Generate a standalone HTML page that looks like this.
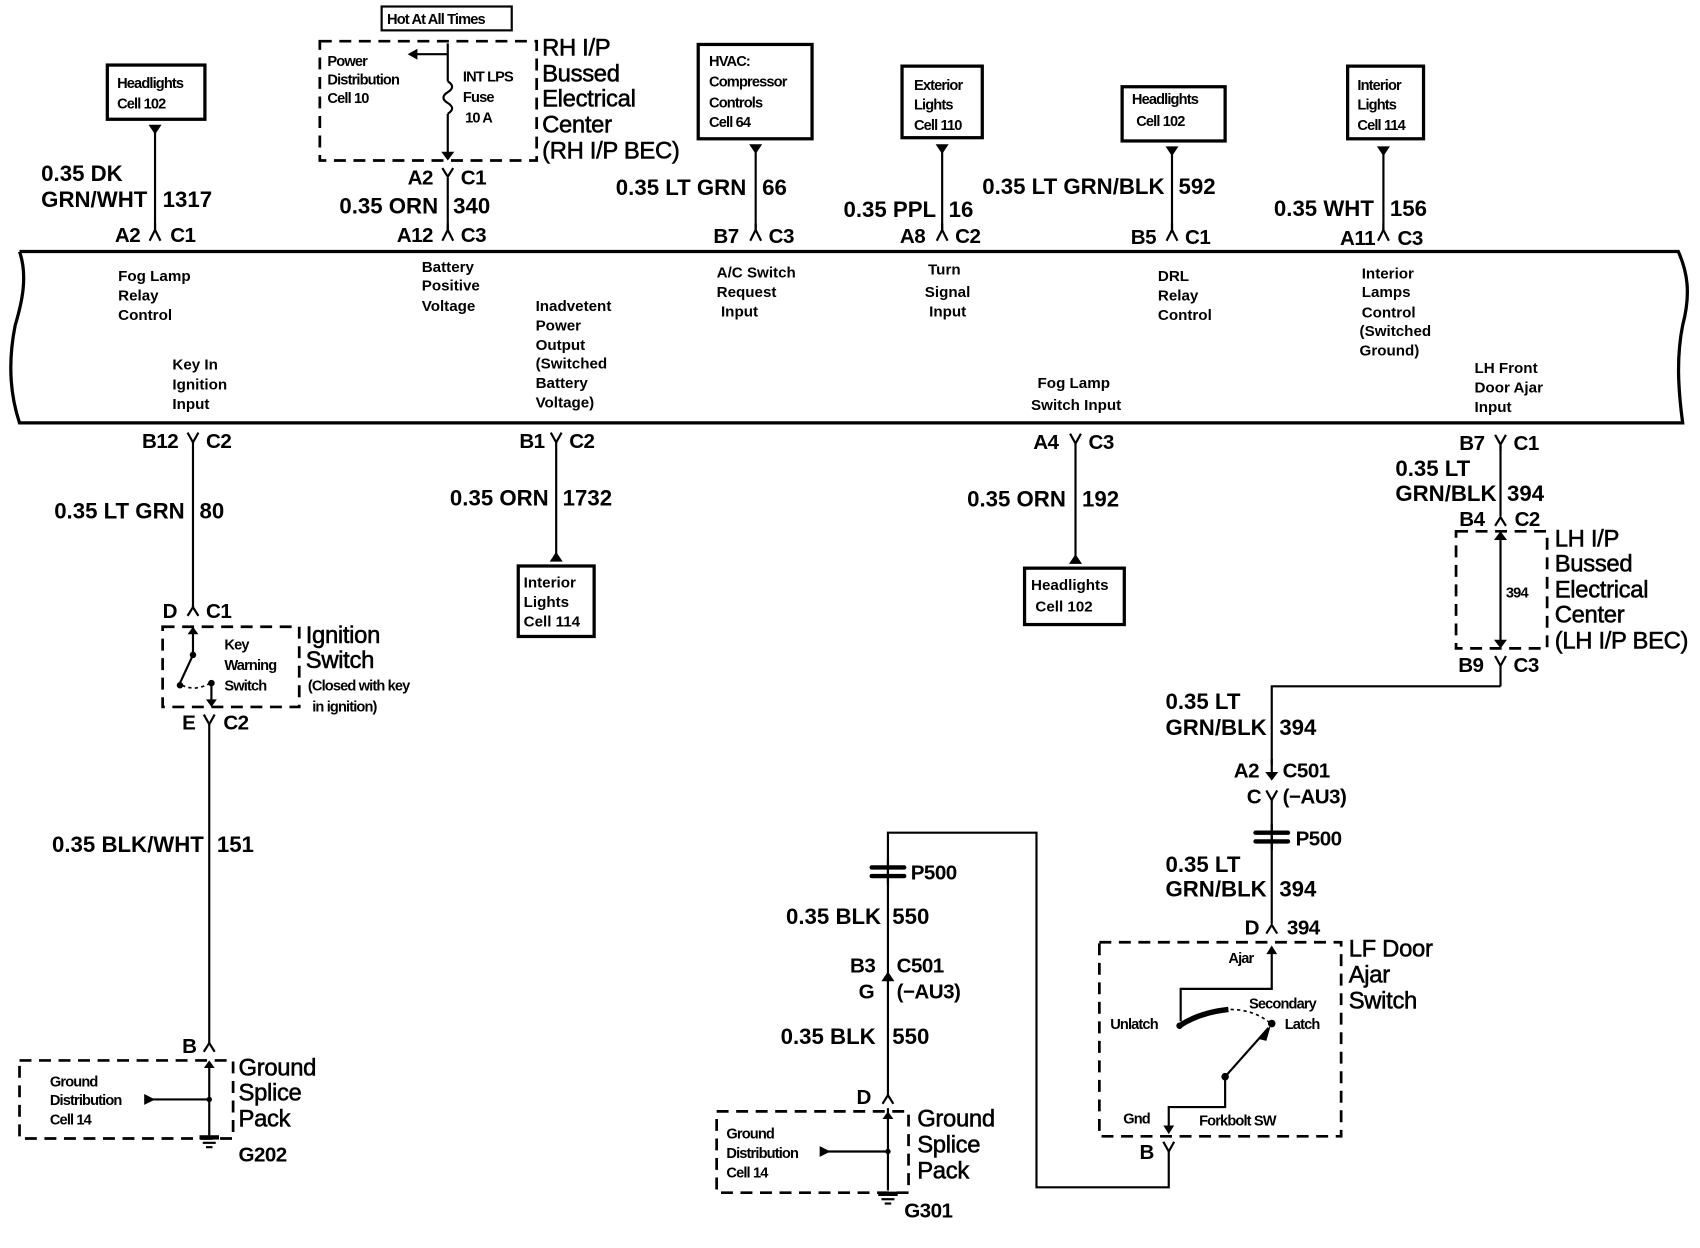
<!DOCTYPE html>
<html><head><meta charset="utf-8"><style>
html,body{margin:0;padding:0;background:#fff;}
svg{display:block;}
text{font-family:"Liberation Sans",sans-serif;font-weight:bold;fill:#000;}
.b{font-size:20.5px;letter-spacing:0px;}
.c{font-size:19px;letter-spacing:-0.5px;}
.s{font-size:14px;letter-spacing:0px;}
.t{font-size:13.5px;letter-spacing:-0.8px;}
.L{font-size:22px;letter-spacing:-0.3px;font-weight:normal;stroke:#000;stroke-width:0.5px;}
</style></head><body>
<svg width="1700" height="1248" viewBox="0 0 1568 1151" preserveAspectRatio="none" xmlns="http://www.w3.org/2000/svg">
<g fill="none" stroke="#000" stroke-width="2">
<path d="M18 232 L1548 232 C1556 250 1560 270 1552 300 C1546 330 1548 360 1552 390 L18 390 C8 360 8 330 14 300 C20 280 26 255 18 232" stroke-width="3"/>
<line x1="143" y1="118" x2="143" y2="214"/>
<line x1="413" y1="40" x2="413" y2="75"/>
<path d="M413 75 q8 5 0 10 q-8 5 0 10 q8 5 0 10"/>
<line x1="413" y1="105" x2="413" y2="144"/>
<line x1="413" y1="50" x2="380" y2="50"/>
<line x1="413" y1="164" x2="413" y2="214"/>
<line x1="697" y1="136" x2="697" y2="214"/>
<line x1="869" y1="136" x2="869" y2="214"/>
<line x1="1081" y1="138" x2="1081" y2="214"/>
<line x1="1276" y1="138" x2="1276" y2="214"/>
<line x1="178" y1="408" x2="178" y2="560"/>
<line x1="193" y1="668" x2="193" y2="962"/>
<line x1="513" y1="408" x2="513" y2="512"/>
<line x1="992" y1="409" x2="992" y2="514"/>
<line x1="1384" y1="411" x2="1384" y2="476"/>
<line x1="1384" y1="614" x2="1384" y2="633"/>
<polyline points="1384,633 1173,633 1173,706"/>
<line x1="1173" y1="738" x2="1173" y2="852"/>
<polyline points="1078,1062 1078,1095 956,1095 956,768 819,768 819,1010"/>
<path d="M143 206 v6 M138 222 l5 -10 l5 10"/>
<path d="M413 206 v6 M408 222 l5 -10 l5 10"/>
<path d="M697 206 v6 M692 222 l5 -10 l5 10"/>
<path d="M869 206 v6 M864 222 l5 -10 l5 10"/>
<path d="M1081 206 v6 M1076 222 l5 -10 l5 10"/>
<path d="M1276 206 v6 M1271 222 l5 -10 l5 10"/>
<path d="M178 558 v2 M173 568 l5 -8 l5 8"/>
<path d="M1379 485 l5 -8 l5 8"/>
<path d="M1168 861 l5 -8 l5 8"/>
<path d="M188 970 l5 -8 l5 8"/>
<path d="M814 1018 l5 -8 l5 8"/>
<path d="M408 155 l5 8 l5 -8"/>
<path d="M173 399 l5 9 l5 -9"/>
<path d="M508 399 l5 9 l5 -9"/>
<path d="M987 400 l5 9 l5 -9"/>
<path d="M1379 401 l5 9 l5 -9 M1384 410 v6"/>
<path d="M1379 605 l5 9 l5 -9"/>
<path d="M188 659 l5 9 l5 -9"/>
<path d="M1168 729 l5 9 l5 -9"/>
<path d="M1073 1053 l5 9 l5 -9"/>
<rect x="99" y="60" width="90" height="50" stroke-width="3"/>
<rect x="352" y="6" width="120" height="22" stroke-width="2"/>
<rect x="644" y="41" width="105" height="87" stroke-width="3"/>
<rect x="832" y="61" width="74" height="66" stroke-width="3"/>
<rect x="1035" y="80" width="95" height="50" stroke-width="3"/>
<rect x="1243" y="61" width="70" height="67" stroke-width="3"/>
<rect x="478" y="522" width="70" height="65" stroke-width="3"/>
<rect x="945" y="524" width="92" height="52" stroke-width="3"/>
<g stroke-dasharray="11,7" stroke-width="2.5">
<rect x="295" y="38" width="200" height="110"/>
<rect x="150" y="578" width="126" height="74"/>
<rect x="18" y="978" width="197" height="72"/>
<rect x="1343" y="490" width="84" height="108"/>
<rect x="1014" y="869" width="223" height="179"/>
<rect x="661" y="1025" width="177" height="75"/>
</g>
<line x1="178" y1="578" x2="178" y2="604"/>
<line x1="178" y1="604" x2="166" y2="630"/>
<path d="M168 632 q12 6 26 -2" stroke-dasharray="3,3" stroke-width="1.5"/>
<line x1="195" y1="630" x2="195" y2="650"/>
<line x1="1384" y1="492" x2="1384" y2="596"/>
<polyline points="1173,874 1173,912 1089,912 1089,942"/>
<path d="M1088 946 C1100 938 1115 933 1133 931" stroke-width="5"/>
<path d="M1135 931 C1150 931 1163 936 1172 944" stroke-dasharray="3,3" stroke-width="1.5"/>
<line x1="1130" y1="993" x2="1170" y2="948"/>
<polyline points="1130,993 1130,1021 1078,1021 1078,1040"/>
<line x1="193" y1="980" x2="193" y2="1048"/>
<line x1="140" y1="1014" x2="193" y2="1014"/>
<line x1="819" y1="1022" x2="819" y2="1098"/>
<line x1="760" y1="1062" x2="819" y2="1062"/>
<line x1="1173" y1="700" x2="1173" y2="716"/>
</g>
<g fill="#000" stroke="none">
<path d="M137 115 h12 l-6 9 z"/>
<path d="M691 133 h12 l-6 9 z"/>
<path d="M863 133 h12 l-6 9 z"/>
<path d="M1075 135 h12 l-6 9 z"/>
<path d="M1270 135 h12 l-6 9 z"/>
<path d="M507 518 h12 l-6 -9 z"/>
<path d="M986 520 h12 l-6 -9 z"/>
<path d="M376 50 l9 -5 v10 z"/>
<path d="M407 140 l6 8 l6 -8 z"/>
<path d="M1167 712 l6 8 l6 -8 z"/>
<path d="M813 905 l6 -9 l6 9 z"/>
<path d="M1378 498 l6 -8 l6 8 z"/>
<path d="M1378 590 l6 8 l6 -8 z"/>
<path d="M173 585 l5 -7 l5 7 z"/>
<path d="M190 645 l5 7 l5 -7 z"/>
<path d="M188 985 l5 -7 l5 7 z"/>
<path d="M814 1032 l5 -7 l5 7 z"/>
<path d="M1168 880 l5 -8 l5 8 z"/>
<path d="M1073 1038 l5 8 l5 -8 z"/>
<path d="M1160 958 l12 -12 l-4 14 z"/>
<path d="M133 1009 l10 5 l-10 5 z"/>
<path d="M756 1057 l10 5 l-10 5 z"/>
<circle cx="178" cy="604" r="3"/><circle cx="166" cy="632" r="3"/><circle cx="195" cy="630" r="3"/>
<circle cx="193" cy="1014" r="2.5"/><circle cx="819" cy="1062" r="2.5"/>
<circle cx="1173" cy="944" r="3.5"/><circle cx="1130" cy="993" r="3.5"/><circle cx="1088" cy="946" r="3"/>
<rect x="184" y="1047" width="18" height="4"/><rect x="187" y="1053" width="12" height="2"/><rect x="190" y="1057" width="6" height="2"/>
<rect x="810" y="1099" width="18" height="4"/><rect x="813" y="1105" width="12" height="2"/><rect x="816" y="1109" width="6" height="2"/>
<rect x="1156" y="766" width="34" height="4" rx="2"/><rect x="1156" y="774" width="34" height="4" rx="2"/>
<rect x="802" y="798" width="34" height="4" rx="2"/><rect x="802" y="806" width="34" height="4" rx="2"/>
</g>
<g fill="none" stroke="#000" stroke-width="2"><line x1="1173" y1="760" x2="1173" y2="784"/><line x1="819" y1="792" x2="819" y2="816"/></g>

<text class="t" x="108" y="81">Headlights</text><text class="t" x="108" y="100">Cell 102</text>
<text class="t" x="357" y="22">Hot At All Times</text>
<text class="t" x="302" y="61">Power</text><text class="t" x="302" y="78">Distribution</text><text class="t" x="302" y="95">Cell 10</text>
<text class="t" x="427" y="75">INT LPS</text><text class="t" x="427" y="94">Fuse</text><text class="t" x="429" y="113">10 A</text>
<text class="t" x="654" y="61">HVAC:</text><text class="t" x="654" y="80">Compressor</text><text class="t" x="654" y="99">Controls</text><text class="t" x="654" y="117">Cell 64</text>
<text class="t" x="843" y="83">Exterior</text><text class="t" x="843" y="101">Lights</text><text class="t" x="843" y="120">Cell 110</text>
<text class="t" x="1044" y="96">Headlights</text><text class="t" x="1048" y="116">Cell 102</text>
<text class="t" x="1252" y="83">Interior</text><text class="t" x="1252" y="101">Lights</text><text class="t" x="1252" y="120">Cell 114</text>
<text class="s" x="483" y="542">Interior</text><text class="s" x="483" y="560">Lights</text><text class="s" x="483" y="578">Cell 114</text>
<text class="s" x="951" y="544">Headlights</text><text class="s" x="955" y="564">Cell 102</text>
<text class="L" x="500" y="51">RH I/P</text><text class="L" x="500" y="75">Bussed</text><text class="L" x="500" y="98">Electrical</text><text class="L" x="500" y="122">Center</text><text class="L" x="500" y="146">(RH I/P BEC)</text>
<text class="L" x="1434" y="504">LH I/P</text><text class="L" x="1434" y="527">Bussed</text><text class="L" x="1434" y="551">Electrical</text><text class="L" x="1434" y="574">Center</text><text class="L" x="1434" y="598">(LH I/P BEC)</text>
<text class="L" x="282" y="593">Ignition</text><text class="L" x="282" y="616">Switch</text>
<text class="t" x="284" y="637">(Closed with key</text><text class="t" x="288" y="656">in ignition)</text>
<text class="t" x="207" y="599">Key</text><text class="t" x="207" y="618">Warning</text><text class="t" x="207" y="637">Switch</text>
<text class="L" x="220" y="992">Ground</text><text class="L" x="220" y="1015">Splice</text><text class="L" x="220" y="1039">Pack</text><text class="c" x="220" y="1071">G202</text>
<text class="t" x="46" y="1002">Ground</text><text class="t" x="46" y="1019">Distribution</text><text class="t" x="46" y="1037">Cell 14</text>
<text class="L" x="846" y="1039">Ground</text><text class="L" x="846" y="1063">Splice</text><text class="L" x="846" y="1087">Pack</text><text class="c" x="834" y="1123">G301</text>
<text class="t" x="670" y="1050">Ground</text><text class="t" x="670" y="1068">Distribution</text><text class="t" x="670" y="1086">Cell 14</text>
<text class="L" x="1244" y="882">LF Door</text><text class="L" x="1244" y="906">Ajar</text><text class="L" x="1244" y="930">Switch</text>
<text class="t" x="1133" y="888">Ajar</text><text class="t" x="1024" y="949">Unlatch</text><text class="t" x="1152" y="930">Secondary</text><text class="t" x="1185" y="949">Latch</text>
<text class="t" x="1036" y="1036">Gnd</text><text class="t" x="1106" y="1038">Forkbolt SW</text>
<text class="t" x="1389" y="551">394</text>
<text class="b" x="38" y="167">0.35 DK</text><text class="b" x="38" y="191">GRN/WHT</text><text class="b" x="150" y="191">1317</text>
<text class="c" x="106" y="223">A2</text><text class="c" x="157" y="223">C1</text>
<text class="c" x="376" y="170">A2</text><text class="c" x="425" y="170">C1</text>
<text class="b" x="313" y="197">0.35 ORN</text><text class="b" x="418" y="197">340</text>
<text class="c" x="366" y="223">A12</text><text class="c" x="425" y="223">C3</text>
<text class="b" x="568" y="180">0.35 LT GRN</text><text class="b" x="703" y="180">66</text>
<text class="c" x="658" y="224">B7</text><text class="c" x="709" y="224">C3</text>
<text class="b" x="778" y="200">0.35 PPL</text><text class="b" x="875" y="200">16</text>
<text class="c" x="830" y="224">A8</text><text class="c" x="881" y="224">C2</text>
<text class="b" x="906" y="179">0.35 LT GRN/BLK</text><text class="b" x="1087" y="179">592</text>
<text class="c" x="1043" y="225">B5</text><text class="c" x="1093" y="225">C1</text>
<text class="b" x="1175" y="199">0.35 WHT</text><text class="b" x="1282" y="199">156</text>
<text class="c" x="1236" y="226">A11</text><text class="c" x="1289" y="226">C3</text>
<text class="s" x="109" y="259">Fog Lamp</text><text class="s" x="109" y="277">Relay</text><text class="s" x="109" y="295">Control</text>
<text class="s" x="159" y="341">Key In</text><text class="s" x="159" y="359">Ignition</text><text class="s" x="159" y="377">Input</text>
<text class="s" x="389" y="251">Battery</text><text class="s" x="389" y="268">Positive</text><text class="s" x="389" y="287">Voltage</text>
<text class="s" x="494" y="287">Inadvetent</text><text class="s" x="494" y="305">Power</text><text class="s" x="494" y="323">Output</text><text class="s" x="494" y="340">(Switched</text><text class="s" x="494" y="358">Battery</text><text class="s" x="494" y="376">Voltage)</text>
<text class="s" x="661" y="256">A/C Switch</text><text class="s" x="661" y="274">Request</text><text class="s" x="665" y="292">Input</text>
<text class="s" x="856" y="253">Turn</text><text class="s" x="853" y="274">Signal</text><text class="s" x="857" y="292">Input</text>
<text class="s" x="1068" y="259">DRL</text><text class="s" x="1068" y="277">Relay</text><text class="s" x="1068" y="295">Control</text>
<text class="s" x="957" y="358">Fog Lamp</text><text class="s" x="951" y="378">Switch Input</text>
<text class="s" x="1256" y="257">Interior</text><text class="s" x="1256" y="274">Lamps</text><text class="s" x="1256" y="293">Control</text><text class="s" x="1254" y="310">(Switched</text><text class="s" x="1254" y="328">Ground)</text>
<text class="s" x="1360" y="344">LH Front</text><text class="s" x="1360" y="362">Door Ajar</text><text class="s" x="1360" y="380">Input</text>
<text class="c" x="131" y="413">B12</text><text class="c" x="190" y="413">C2</text>
<text class="b" x="50" y="478">0.35 LT GRN</text><text class="b" x="184" y="478">80</text>
<text class="c" x="150" y="570">D</text><text class="c" x="190" y="570">C1</text>
<text class="c" x="168" y="673">E</text><text class="c" x="206" y="673">C2</text>
<text class="b" x="48" y="786">0.35 BLK/WHT</text><text class="b" x="200" y="786">151</text>
<text class="c" x="168" y="971">B</text>
<text class="c" x="479" y="413">B1</text><text class="c" x="525" y="413">C2</text>
<text class="b" x="415" y="466">0.35 ORN</text><text class="b" x="519" y="466">1732</text>
<text class="c" x="953" y="414">A4</text><text class="c" x="1004" y="414">C3</text>
<text class="b" x="892" y="467">0.35 ORN</text><text class="b" x="998" y="467">192</text>
<text class="c" x="1346" y="415">B7</text><text class="c" x="1396" y="415">C1</text>
<text class="b" x="1287" y="439">0.35 LT</text><text class="b" x="1287" y="462">GRN/BLK</text><text class="b" x="1390" y="462">394</text>
<text class="c" x="1346" y="485">B4</text><text class="c" x="1397" y="485">C2</text>
<text class="c" x="1345" y="620">B9</text><text class="c" x="1396" y="620">C3</text>
<text class="b" x="1075" y="654">0.35 LT</text><text class="b" x="1075" y="678">GRN/BLK</text><text class="b" x="1180" y="678">394</text>
<text class="c" x="1138" y="717">A2</text><text class="c" x="1183" y="717">C501</text>
<text class="c" x="1150" y="741">C</text><text class="c" x="1183" y="741">(−AU3)</text>
<text class="c" x="1195" y="780">P500</text>
<text class="b" x="1075" y="804">0.35 LT</text><text class="b" x="1075" y="827">GRN/BLK</text><text class="b" x="1180" y="827">394</text>
<text class="c" x="1148" y="862">D</text><text class="c" x="1187" y="862">394</text>
<text class="c" x="1051" y="1069">B</text>
<text class="c" x="840" y="811">P500</text>
<text class="b" x="725" y="852">0.35 BLK</text><text class="b" x="823" y="852">550</text>
<text class="c" x="784" y="897">B3</text><text class="c" x="827" y="897">C501</text>
<text class="c" x="792" y="921">G</text><text class="c" x="827" y="921">(−AU3)</text>
<text class="b" x="720" y="963">0.35  BLK</text><text class="b" x="823" y="963">550</text>
<text class="c" x="790" y="1018">D</text>
</svg>
</body></html>
